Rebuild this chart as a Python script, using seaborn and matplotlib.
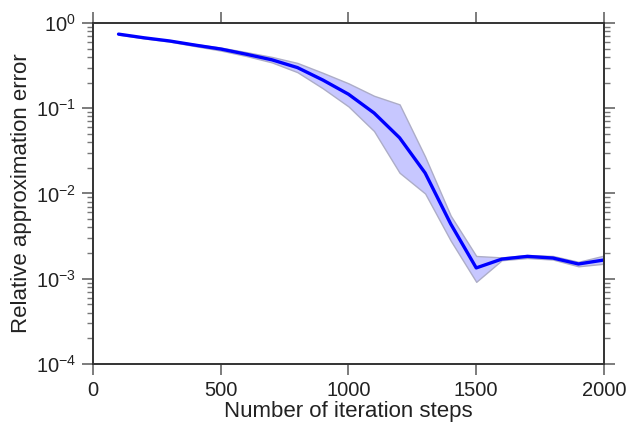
import numpy as np
import pandas as pd
import matplotlib
matplotlib.use("Agg")
import matplotlib.pyplot as plt
import seaborn as sns
from matplotlib.ticker import LogLocator, FixedLocator

steps = [100, 200, 300, 400, 500, 600, 700, 800, 900, 1000,
         1100, 1200, 1300, 1400, 1500, 1600, 1700, 1800, 1900, 2000]
mean_err = [0.74, 0.67, 0.615, 0.55, 0.495, 0.43, 0.37, 0.30, 0.214, 0.146,
            0.088, 0.045, 0.0174, 0.0044, 0.00134, 0.0017, 0.00183, 0.00175, 0.00149, 0.00166]
upper_err = [0.75, 0.68, 0.625, 0.565, 0.515, 0.455, 0.40, 0.34, 0.26, 0.196,
             0.14, 0.111, 0.027, 0.0055, 0.00185, 0.00178, 0.0019, 0.00185, 0.00158, 0.00187]
lower_err = [0.73, 0.66, 0.605, 0.535, 0.475, 0.41, 0.345, 0.265, 0.171, 0.105,
             0.054, 0.0175, 0.0100, 0.0028, 0.00092, 0.00165, 0.00175, 0.00168, 0.00140, 0.00150]

xticks = [0, 500, 1000, 1500, 2000]
yticks = [1e-4, 1e-3, 1e-2, 1e-1, 1e0]

sns.set_style("ticks")
plt.rcParams['font.family'] = ['Liberation Sans', 'DejaVu Sans']
plt.rcParams['mathtext.fontset'] = 'custom'
plt.rcParams['mathtext.rm'] = 'Liberation Sans'
plt.rcParams['mathtext.it'] = 'Liberation Sans'

df = pd.DataFrame({"step": steps, "err": mean_err})

fig = plt.figure(figsize=(6.27, 4.24), dpi=100)
ax = fig.add_axes([0.1483, 0.1415, 0.9633 - 0.1483, 0.9458 - 0.1415])

ax.fill_between(steps, lower_err, upper_err, facecolor=(0.78, 0.78, 1.0),
                edgecolor=(0.68, 0.68, 0.78), linewidth=1.0, zorder=1)
sns.lineplot(data=df, x="step", y="err", ax=ax, color=(0, 0, 1), linewidth=2.4, zorder=2)

ax.set_yscale("log")
ax.set_xlim(0, 2000)
ax.set_ylim(1e-4, 1e0)
ax.xaxis.set_major_locator(FixedLocator(xticks))
ax.yaxis.set_major_locator(FixedLocator(yticks))
ax.yaxis.set_minor_locator(LogLocator(base=10, subs=np.arange(2, 10)))
ax.set_yticklabels([r"$10^{%d}$" % int(np.log10(v)) for v in yticks])

ax.set_xlabel("Number of iteration steps", fontsize=16, color="#222222", labelpad=1)
ax.set_ylabel("Relative approximation error", fontsize=16, color="#222222", labelpad=3)

for s in ax.spines.values():
    s.set_visible(True)
    s.set_color("#333333")
    s.set_linewidth(1.4)

ax.tick_params(axis="both", which="major", direction="out", length=8, width=1.2,
               color="#666666", labelsize=14.5, labelcolor="#222222",
               top=True, right=True, pad=4)
ax.tick_params(axis="y", which="minor", direction="out", length=4, width=1.0,
               color="#777777", left=True, right=True)
ax.tick_params(axis="x", which="minor", bottom=False, top=False)

fig.savefig("out.png", dpi=100)
